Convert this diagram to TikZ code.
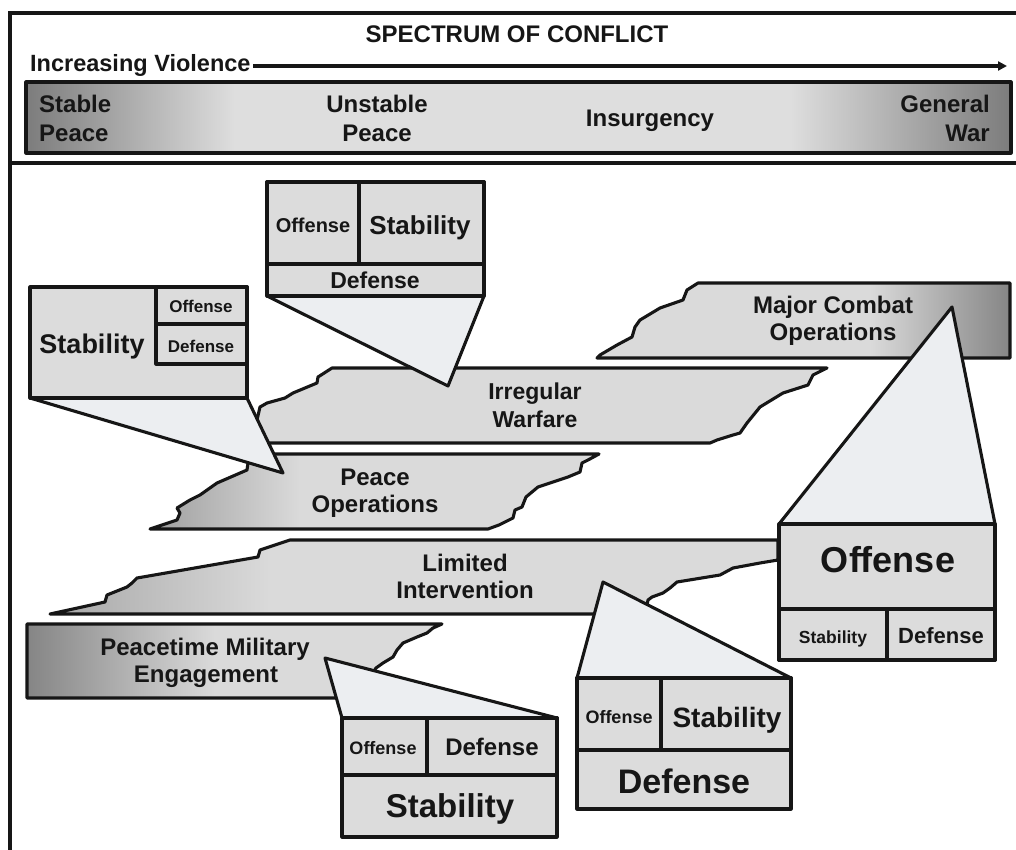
\documentclass[tikz,border=0pt]{standalone}
\usepackage{fontspec}
\setmainfont{Liberation Sans}
\usetikzlibrary{arrows.meta}
\definecolor{boxgray}{HTML}{DCDCDC}
\definecolor{callfill}{HTML}{ECEEF1}
\definecolor{bandlight}{HTML}{DADADA}
\definecolor{banddark}{HTML}{858585}
\definecolor{barlight}{HTML}{DEDEDE}
\definecolor{bardark}{HTML}{7C7C7C}
\definecolor{ink}{HTML}{161616}
\newcommand\fsz[1]{\fontsize{#1}{#1}\selectfont\bfseries}
\pgfdeclarelayer{paper}
\pgfdeclarelayer{bands}
\pgfdeclarelayer{calls}
\pgfsetlayers{paper,bands,calls,main}
\def\pathMCO{(698,283) -- (1010,283) -- (1010,358) -- (597,358) -- (600,355) -- (617,345) -- (632,337) -- (635,327) -- (640,320) -- (660,308) -- (683,300) -- (687,290) -- cycle}
\def\pathIW{(332,368) -- (827,368) -- (813,375) -- (808,385) -- (783,393) -- (760,407) -- (747,423) -- (740,433) -- (733,435) -- (717,440) -- (710,443) -- (255,443) -- (257,420) -- (260,407) -- (267,403) -- (285,398) -- (293,393) -- (305,388) -- (317,383) -- (318,377) -- cycle}
\def\pathPO{(265,454) -- (599,454) -- (588,460) -- (582,463) -- (580,472) -- (568,477) -- (538,487) -- (526,497) -- (522,507) -- (515,510) -- (513,518) -- (499,525) -- (488,529) -- (150,529) -- (177,520) -- (180,513) -- (177,508) -- (190,500) -- (200,495) -- (217,483) -- (247,470) -- (248,463) -- cycle}
\def\pathLI{(290,540) -- (778,540) -- (778,560) -- (760,563) -- (733,568) -- (720,575) -- (677,582) -- (670,588) -- (663,593) -- (652,597) -- (648,600) -- (647,605) -- (630,614) -- (50,614) -- (105,602) -- (107,595) -- (127,587) -- (132,583) -- (137,578) -- (258,557) -- (260,550) -- cycle}
\def\pathPME{(27,624) -- (442,624) -- (433,628) -- (427,633) -- (417,637) -- (403,643) -- (397,650) -- (393,657) -- (383,663) -- (376,668) -- (365,685) -- (345,698) -- (27,698) -- cycle}
\begin{document}
\begin{tikzpicture}[x=1pt,y=-1pt,
  outl/.style={draw=ink, line width=3.1pt, line join=round},
  cell/.style={outl, fill=boxgray, rectangle, inner sep=0pt, outer sep=0pt},
  lbl/.style={anchor=base, inner sep=0pt, text=ink},
  calline/.style={draw=ink, line width=3.1pt, line cap=round, line join=round},
  framel/.style={draw=ink, line width=3.4pt},
  ]
\useasboundingbox (0,0) rectangle (1016,850);
\begin{pgfonlayer}{paper}
\fill[white] (0,0) rectangle (1016,850);
\end{pgfonlayer}

% ---------- header ----------
\draw[framel] (10,860) -- (10,13) -- (1030,13);
\draw[framel] (10,163) -- (1030,163);
\node[lbl, font=\fsz{24}] (title) at (517,43) {SPECTRUM OF CONFLICT};
\node[lbl, anchor=base west, font=\fsz{23.5}] (incv) at (30,72) {Increasing Violence};
\coordinate (arrstart) at (253,66);
\coordinate (arrend) at (1007,66);
\draw[draw=ink, line width=3.2pt, -{Triangle[length=9pt,width=9pt]}] (arrstart) -- (arrend);

\shade[left color=bardark, right color=barlight] (26,82) rectangle (235,153);
\fill[barlight] (234,82) rectangle (791,153);
\shade[left color=barlight, right color=bardark] (790,82) rectangle (1011,153);
\node[outl, rectangle, inner sep=0pt, minimum width=985, minimum height=71] (bar) at (518.5,117.5) {};
\node[lbl, anchor=base west, font=\fsz{24}] (sp1) at (39,113) {Stable};
\node[lbl, anchor=base west, font=\fsz{24}] (sp2) at (39,142) {Peace};
\node[lbl, font=\fsz{24}] (up1) at (377,113) {Unstable};
\node[lbl, font=\fsz{24}] (up2) at (377,142) {Peace};
\node[lbl, font=\fsz{24}] (ins) at (650,127) {Insurgency};
\node[lbl, anchor=base east, font=\fsz{24}] (gw1) at (990,113) {General};
\node[lbl, anchor=base east, font=\fsz{24}] (gw2) at (990,142) {War};

% ---------- bands ----------
\begin{pgfonlayer}{bands}
\begin{scope}
 \clip \pathMCO;
 \fill[bandlight] (590,280) rectangle (1012,360);
 \shade[left color=bandlight, right color=banddark] (870,280) rectangle (1011,360);
\end{scope}
\draw[outl] \pathMCO;
\begin{scope}
 \clip \pathIW;
 \fill[bandlight] (250,365) rectangle (830,445);
\end{scope}
\draw[outl] \pathIW;
\begin{scope}
 \clip \pathPO;
 \fill[bandlight] (140,450) rectangle (610,532);
 \shade[left color=banddark!70!bandlight, right color=bandlight] (150,450) rectangle (300,532);
\end{scope}
\draw[outl] \pathPO;
\begin{scope}
 \clip \pathLI;
 \fill[bandlight] (40,535) rectangle (790,618);
 \shade[left color=banddark!60!bandlight, right color=bandlight] (50,535) rectangle (270,618);
\end{scope}
\draw[outl] \pathLI;
\begin{scope}
 \clip \pathPME;
 \fill[bandlight] (20,620) rectangle (450,700);
 \shade[left color=banddark, right color=bandlight] (27,620) rectangle (215,700);
\end{scope}
\draw[outl] \pathPME;
\end{pgfonlayer}

\node[lbl, font=\fsz{24}] (mco1) at (833,313) {Major Combat};
\node[lbl, font=\fsz{24}] (mco2) at (833,340) {Operations};
\node[lbl, font=\fsz{23}] (iw1) at (535,399) {Irregular};
\node[lbl, font=\fsz{23}] (iw2) at (535,427) {Warfare};
\node[lbl, font=\fsz{24}] (po1) at (375,485) {Peace};
\node[lbl, font=\fsz{24}] (po2) at (375,512) {Operations};
\node[lbl, font=\fsz{24}] (li1) at (465,571) {Limited};
\node[lbl, font=\fsz{24}] (li2) at (465,598) {Intervention};
\node[lbl, font=\fsz{24}] (pme1) at (205,655) {Peacetime Military};
\node[lbl, font=\fsz{24}] (pme2) at (206,682) {Engagement};

% ---------- box A ----------
\node[cell, minimum width=217, minimum height=114] (boxA) at (375.5,239) {};
\node[cell, minimum width=92, minimum height=82] (boxAoff) at (313,223) {};
\node[cell, minimum width=125, minimum height=82] (boxAsta) at (421.5,223) {};
\node[lbl, font=\fsz{20}] (tAoff) at (313,233) {Offense};
\node[lbl, font=\fsz{26}] (tAsta) at (420,234) {Stability};
\node[lbl, font=\fsz{23}] (tAdef) at (375,288) {Defense};

% ---------- box B ----------
\node[cell, minimum width=217, minimum height=111] (boxB) at (138.5,342.5) {};
\node[cell, minimum width=91, minimum height=37] (boxBoff) at (201.5,305.5) {};
\node[cell, minimum width=91, minimum height=40] (boxBdef) at (201.5,344) {};
\node[lbl, font=\fsz{27}] (tBsta) at (92,353) {Stability};
\node[lbl, font=\fsz{17}] (tBoff) at (201,312) {Offense};
\node[lbl, font=\fsz{17}] (tBdef) at (201,352) {Defense};

% ---------- offense box ----------
\node[cell, minimum width=216, minimum height=136] (boxO) at (887,592) {};
\node[cell, minimum width=108, minimum height=51] (boxOsta) at (833,634.5) {};
\node[cell, minimum width=108, minimum height=51] (boxOdef) at (941,634.5) {};
\node[lbl, font=\fsz{36}] (tOoff) at (888,572) {Offense};
\node[lbl, font=\fsz{17.5}] (tOsta) at (833,643) {Stability};
\node[lbl, font=\fsz{22}] (tOdef) at (941,643) {Defense};

% ---------- box C ----------
\node[cell, minimum width=214, minimum height=131] (boxC) at (684,743.5) {};
\node[cell, minimum width=84, minimum height=72] (boxCoff) at (619,714) {};
\node[cell, minimum width=130, minimum height=72] (boxCsta) at (726,714) {};
\node[lbl, font=\fsz{18}] (tCoff) at (619,723) {Offense};
\node[lbl, font=\fsz{28}] (tCsta) at (727,727) {Stability};
\node[lbl, font=\fsz{34}] (tCdef) at (684,793) {Defense};

% ---------- box D ----------
\node[cell, minimum width=215, minimum height=119] (boxD) at (449.5,777.5) {};
\node[cell, minimum width=85, minimum height=57] (boxDoff) at (384.5,746.5) {};
\node[cell, minimum width=130, minimum height=57] (boxDdef) at (492,746.5) {};
\node[lbl, font=\fsz{18}] (tDoff) at (383,754) {Offense};
\node[lbl, font=\fsz{24}] (tDdef) at (492,755) {Defense};
\node[lbl, font=\fsz{33}] (tDsta) at (450,817) {Stability};

% ---------- callouts ----------
\coordinate (apA) at (448,386);
\coordinate (apB) at (283,473);
\coordinate (apO) at (952,307);
\coordinate (apC) at (603,582);
\coordinate (apD) at (325,658);
\begin{pgfonlayer}{calls}
\fill[callfill] (apA) -- (boxA.south west) -- (boxA.south east) -- cycle;
\draw[calline] (boxA.south west) -- (apA) -- (boxA.south east);
\fill[callfill] (apB) -- (boxB.south west) -- (boxB.south east) -- cycle;
\draw[calline] (boxB.south west) -- (apB) -- (boxB.south east);
\fill[callfill] (apO) -- (boxO.north west) -- (boxO.north east) -- cycle;
\draw[calline] (boxO.north west) -- (apO) -- (boxO.north east);
\fill[callfill] (apC) -- (boxC.north west) -- (boxC.north east) -- cycle;
\draw[calline] (boxC.north west) -- (apC) -- (boxC.north east);
\fill[callfill] (apD) -- (boxD.north west) -- (boxD.north east) -- cycle;
\draw[calline] (boxD.north west) -- (apD) -- (boxD.north east);
\end{pgfonlayer}
\end{tikzpicture}
\end{document}
